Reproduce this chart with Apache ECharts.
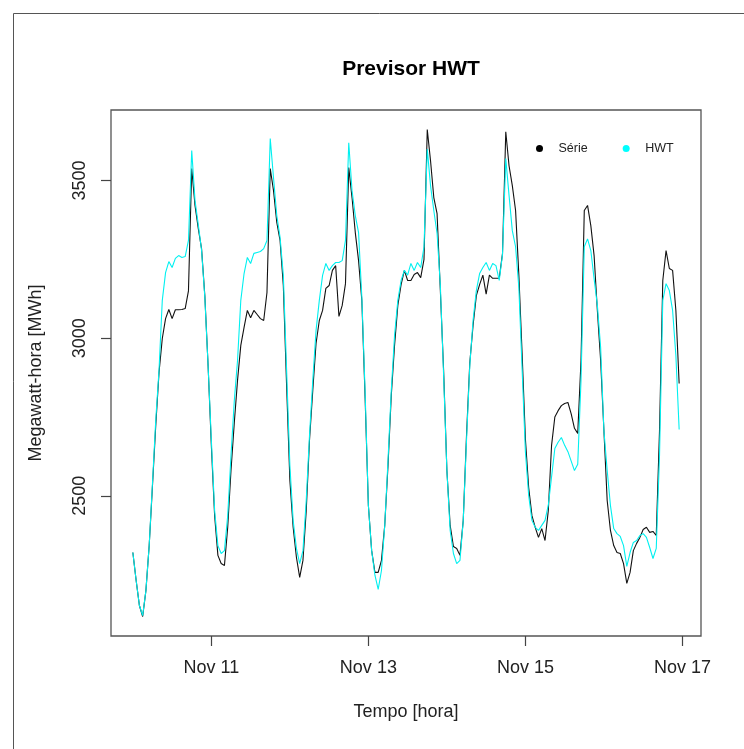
<!DOCTYPE html>
<html>
<head>
<meta charset="utf-8">
<title>Previsor HWT</title>
<script src="https://cdn.jsdelivr.net/npm/echarts@6/dist/echarts.min.js"></script>
<style>
  html, body { margin: 0; padding: 0; background: #fff; }
  #chart { width: 744px; height: 749px; }
</style>
</head>
<body>
<div id="chart"></div>
<script>
// Hourly load, 10-16 Nov (168 hours), observed series and HWT forecast
const START = Date.UTC(2016, 10, 10, 0, 0);
const HOUR = 3600 * 1000;

const serie = [
  // Nov 10
  2320, 2232, 2152, 2117, 2200, 2343, 2532, 2723, 2891, 2999, 3062, 3091, 3062, 3090, 3090, 3091, 3094, 3150, 3538, 3421, 3348, 3284, 3135, 2913,
  // Nov 11
  2659, 2437, 2311, 2285, 2279, 2400, 2580, 2730, 2866, 2977, 3034, 3088, 3065, 3088, 3075, 3062, 3056, 3145, 3538, 3468, 3367, 3310, 3167, 2850,
  // Nov 12
  2549, 2400, 2305, 2241, 2295, 2453, 2676, 2834, 2983, 3056, 3088, 3158, 3167, 3215, 3230, 3069, 3104, 3173, 3541, 3446, 3335, 3246, 3120, 2811,
  // Nov 13
  2469, 2326, 2257, 2257, 2295, 2406, 2596, 2818, 2977, 3104, 3170, 3215, 3183, 3183, 3202, 3208, 3192, 3250, 3662, 3563, 3446, 3395, 3151, 2897,
  // Nov 14
  2580, 2406, 2339, 2333, 2311, 2422, 2691, 2922, 3040, 3135, 3170, 3200, 3140, 3200, 3190, 3190, 3190, 3268, 3655, 3547, 3484, 3405, 3200, 2950,
  // Nov 15
  2680, 2526, 2437, 2400, 2368, 2396, 2358, 2453, 2660, 2750, 2770, 2786, 2793, 2796, 2760, 2714, 2698, 2929, 3405, 3421, 3357, 3262, 3088, 2929,
  // Nov 16
  2707, 2485, 2390, 2342, 2320, 2317, 2285, 2222, 2257, 2326, 2349, 2368, 2393, 2400, 2384, 2387, 2374, 2707, 3183, 3278, 3221, 3215, 3088, 2856
];

const hwt = [
  // Nov 10
  2320, 2232, 2152, 2120, 2200, 2343, 2540, 2740, 2898, 3120, 3208, 3243, 3224, 3253, 3262, 3256, 3259, 3310, 3595, 3437, 3360, 3280, 3130, 2913,
  // Nov 11
  2676, 2453, 2342, 2317, 2326, 2437, 2628, 2800, 2929, 3120, 3205, 3256, 3237, 3269, 3272, 3275, 3284, 3310, 3633, 3509, 3389, 3320, 3200, 2900,
  // Nov 12
  2596, 2422, 2333, 2285, 2326, 2485, 2691, 2866, 3024, 3120, 3199, 3237, 3215, 3230, 3240, 3240, 3246, 3310, 3620, 3468, 3389, 3335, 3130, 2830,
  // Nov 13
  2469, 2326, 2248, 2203, 2263, 2406, 2612, 2834, 3008, 3120, 3183, 3215, 3200, 3237, 3215, 3240, 3224, 3290, 3600, 3484, 3405, 3332, 3167, 2882,
  // Nov 14
  2580, 2390, 2317, 2285, 2295, 2422, 2676, 2913, 3056, 3151, 3205, 3224, 3240, 3215, 3237, 3230, 3183, 3265, 3570, 3453, 3341, 3290, 3160, 2900,
  // Nov 15
  2640, 2501, 2422, 2400, 2390, 2406, 2422, 2470, 2560, 2650, 2670, 2685, 2660, 2640, 2610, 2580, 2600, 2866, 3290, 3315, 3278, 3189, 3104, 2970,
  // Nov 16
  2707, 2580, 2469, 2396, 2380, 2371, 2342, 2276, 2320, 2352, 2358, 2374, 2380, 2368, 2336, 2301, 2333, 2628, 3120, 3173, 3151, 3088, 2945, 2710
];

const xTickDates = [Date.UTC(2016, 10, 11), Date.UTC(2016, 10, 13), Date.UTC(2016, 10, 15), Date.UTC(2016, 10, 17)];
const xTickLabels = ['Nov 11', 'Nov 13', 'Nov 15', 'Nov 17'];
const yTicks = [2500, 3000, 3500];

const FONT = '"Liberation Sans", Arial, Helvetica, sans-serif';
const toPoints = arr => arr.map((v, i) => [START + i * HOUR, v]);
// R-style axis range: data extent padded by 4% on each side
const padMin = e => e.min - 0.04 * (e.max - e.min);
const padMax = e => e.max + 0.04 * (e.max - e.min);

const chart = echarts.init(document.getElementById('chart'), null, { renderer: 'canvas' });
chart.setOption({
  animation: false,
  backgroundColor: '#ffffff',
  textStyle: { fontFamily: FONT },
  title: {
    text: 'Previsor HWT',
    left: 406,
    top: 54,
    textAlign: 'center',
    textStyle: { fontFamily: FONT, fontSize: 21, fontWeight: 'bold', color: '#000' }
  },
  legend: {
    data: ['Série', 'HWT'],
    left: 531,
    top: 137,
    icon: 'circle',
    itemWidth: 28,
    itemHeight: 7,
    itemGap: 35,
    textStyle: { fontFamily: FONT, fontSize: 12.5, color: '#222' }
  },
  graphic: [{
    type: 'rect',
    silent: true,
    shape: { x: 13.5, y: 13.5, width: 900, height: 900 },
    style: { fill: 'none', stroke: '#555', lineWidth: 1 }
  }],
  grid: {
    left: 111, right: 43, top: 110, bottom: 113,
    show: true, borderColor: '#555', borderWidth: 1.3, backgroundColor: 'transparent'
  },
  xAxis: {
    type: 'value',
    min: padMin,
    max: padMax,
    name: 'Tempo [hora]',
    nameLocation: 'middle',
    nameGap: 67,
    nameTextStyle: { fontFamily: FONT, fontSize: 18, color: '#222' },
    axisLine: { show: false },
    axisTick: { show: true, customValues: xTickDates, length: 10, lineStyle: { color: '#444', width: 1.2 } },
    axisLabel: {
      customValues: xTickDates,
      formatter: v => xTickLabels[xTickDates.indexOf(v)] || '',
      margin: 23,
      fontFamily: FONT, fontSize: 18, color: '#222'
    },
    splitLine: { show: false }
  },
  yAxis: {
    type: 'value',
    min: padMin,
    max: padMax,
    name: 'Megawatt-hora [MWh]',
    nameLocation: 'middle',
    nameRotate: 90,
    nameGap: 66,
    nameTextStyle: { fontFamily: FONT, fontSize: 18, color: '#222' },
    axisLine: { show: false },
    axisTick: { show: true, customValues: yTicks, length: 10, lineStyle: { color: '#444', width: 1.2 } },
    axisLabel: {
      customValues: yTicks,
      formatter: v => String(v),
      rotate: 90,
      margin: 22,
      fontFamily: FONT, fontSize: 18, color: '#222'
    },
    splitLine: { show: false }
  },
  series: [
    {
      name: 'Série',
      type: 'line',
      data: toPoints(serie),
      showSymbol: false,
      color: '#000000',
      lineStyle: { color: '#111111', width: 1.1 }
    },
    {
      name: 'HWT',
      type: 'line',
      data: toPoints(hwt),
      showSymbol: false,
      color: '#00FFFF',
      lineStyle: { color: '#00F0F0', width: 1.1 }
    }
  ]
});
</script>
</body>
</html>
